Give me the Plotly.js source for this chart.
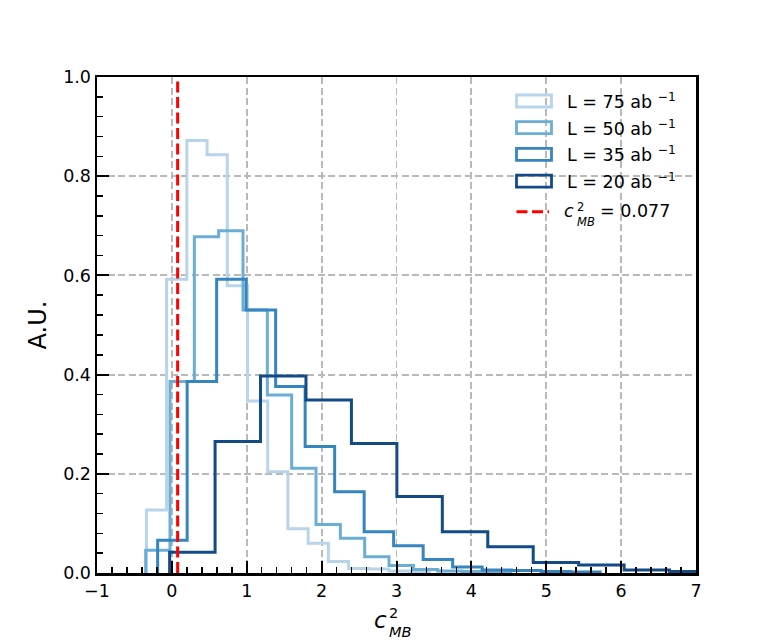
<!DOCTYPE html>
<html><head><meta charset="utf-8">
<script src="https://cdn.plot.ly/plotly-3.0.1.min.js"></script>
<style>html,body{margin:0;padding:0;background:#fff}#chart{width:773px;height:644px}</style>
</head><body><div id="chart"></div>
<script>
// ---- data ----
const seriesLabels = ['L = 75 ab <sup>−1</sup>', 'L = 50 ab <sup>−1</sup>', 'L = 35 ab <sup>−1</sup>', 'L = 20 ab <sup>−1</sup>'];
const seriesColors = ['#b7d4ea', '#6aaed6', '#3585c0', '#134b87'];

const binStart75 = -0.34, binWidth75 = 0.27;
const heights75 = [0.127, 0.592, 0.872, 0.843, 0.579, 0.347, 0.204, 0.089, 0.060, 0.023, 0.009, 0.008, 0.004, 0.002];

const binStart50 = -0.35, binWidth50 = 0.325;
const heights50 = [0.046, 0.386, 0.678, 0.690, 0.530, 0.359, 0.211, 0.098, 0.070, 0.033, 0.015, 0.007, 0.004, 0.003, 0.002];

const binStart35 = -0.19, binWidth35 = 0.394;
const heights35 = [0.066, 0.386, 0.592, 0.530, 0.376, 0.255, 0.164, 0.083, 0.055, 0.027, 0.012, 0.006, 0.005, 0.003, 0.002];

const binStart20 = -0.03, binWidth20 = 0.607;
const heights20 = [0.042, 0.265, 0.397, 0.349, 0.261, 0.154, 0.083, 0.053, 0.021, 0.016, 0.006, 0.003];

const cMB = 0.077;
const cMBLabel = '= 0.077';

const xTicks = [-1, 0, 1, 2, 3, 4, 5, 6, 7];
const yTicks = [0, 0.2, 0.4, 0.6, 0.8, 1.0];

// ---- build step outlines (matplotlib histtype="step") ----
function stepOutline(start, width, h) {
  const xs = [start], ys = [0];
  for (let i = 0; i < h.length; i++) { xs.push(start + i * width); ys.push(h[i]); }
  xs.push(start + h.length * width); ys.push(0);
  return {xs, ys};
}
const series = [
  [binStart75, binWidth75, heights75],
  [binStart50, binWidth50, heights50],
  [binStart35, binWidth35, heights35],
  [binStart20, binWidth20, heights20]
];
const traces = series.map((s, i) => {
  const o = stepOutline(s[0], s[1], s[2]);
  return {type: 'scatter', mode: 'lines', x: o.xs, y: o.ys, name: seriesLabels[i],
          line: {color: seriesColors[i], width: 3, shape: 'hv'}, showlegend: false, hoverinfo: 'skip'};
});
traces.push({type: 'scatter', mode: 'lines', x: [cMB, cMB], y: [yTicks[0], yTicks[yTicks.length - 1]],
  line: {color: '#ff0000', width: 3, dash: '11px,4.5px'}, showlegend: false, hoverinfo: 'skip'});

// ---- layout helpers (pixel -> paper) ----
const L = 97, T = 77, W = 599, H = 496;
const px = v => (v - L) / W;
const py = v => (T + H - v) / H;
const FONT = 'DejaVu Sans';

const shapes = [], annotations = [];
const rowY = [101, 127.7, 154.4, 181.1];
rowY.forEach((c, i) => {
  shapes.push({type: 'rect', xref: 'paper', yref: 'paper', x0: px(516.5), x1: px(551.5), y0: py(c - 6), y1: py(c + 6),
    line: {color: seriesColors[i], width: 2.8}, fillcolor: 'rgba(0,0,0,0)'});
  annotations.push({xref: 'paper', yref: 'paper', x: px(565), y: py(c), xanchor: 'left', yanchor: 'middle',
    text: seriesLabels[i], showarrow: false, font: {family: FONT, size: 17.5, color: '#000'}});
});
// red dashed legend entry
shapes.push({type: 'line', xref: 'paper', yref: 'paper', x0: px(516.5), x1: px(549), y0: py(211.7), y1: py(211.7),
  line: {color: '#ff0000', width: 3, dash: '11px,4.5px'}});
annotations.push({xref: 'paper', yref: 'paper', x: px(575.5), y: py(211), xanchor: 'right', yanchor: 'middle',
  text: '<i>c</i>', showarrow: false, font: {family: FONT, size: 17.5, color: '#000'}});
annotations.push({xref: 'paper', yref: 'paper', x: px(575), y: py(214), xanchor: 'left', yanchor: 'middle', align: 'left',
  text: '2<br><i>MB</i>', showarrow: false, font: {family: FONT, size: 11.5, color: '#000'}});
annotations.push({xref: 'paper', yref: 'paper', x: px(598), y: py(210.5), xanchor: 'left', yanchor: 'middle',
  text: cMBLabel, showarrow: false, font: {family: FONT, size: 17.5, color: '#000'}});

// x axis title  c^2_MB  (stacked super/subscript)
annotations.push({xref: 'paper', yref: 'paper', x: px(389), y: py(619.5), xanchor: 'right', yanchor: 'middle',
  text: '<i>c</i>', showarrow: false, font: {family: FONT, size: 23, color: '#000'}});
annotations.push({xref: 'paper', yref: 'paper', x: px(387), y: py(622), xanchor: 'left', yanchor: 'middle', align: 'left',
  text: '2<br><i>MB</i>', showarrow: false, font: {family: FONT, size: 14.5, color: '#000'}});

const axisCommon = {
  showline: true, linecolor: '#000', linewidth: 2.5, mirror: true,
  ticks: 'inside', ticklen: 12, tickwidth: 2, tickcolor: '#000',
  showgrid: true, gridcolor: '#b9b9b9', gridwidth: 1.8, griddash: '7px,3.5px',
  zeroline: false, tickfont: {family: FONT, size: 17.5, color: '#000'},
  fixedrange: true
};

const layout = {
  width: 773, height: 644,
  margin: {l: L, r: 773 - L - W, t: T, b: 644 - T - H, pad: 0},
  paper_bgcolor: '#fff', plot_bgcolor: '#fff',
  font: {family: FONT, color: '#000'},
  showlegend: false,
  xaxis: Object.assign({}, axisCommon, {
    range: [xTicks[0], xTicks[xTicks.length - 1]], tickmode: 'array', tickvals: xTicks,
    ticktext: xTicks.map(v => v < 0 ? '−' + Math.abs(v) : String(v)),
    minor: {dtick: 0.2, tick0: -1, ticks: 'inside', ticklen: 6, tickwidth: 1.5, tickcolor: '#000', showgrid: false},
    automargin: false
  }),
  yaxis: Object.assign({}, axisCommon, {
    range: [yTicks[0], yTicks[yTicks.length - 1]], tickmode: 'array', tickvals: yTicks,
    ticktext: yTicks.map(v => v.toFixed(1)),
    minor: {dtick: 0.04, tick0: 0, ticks: 'inside', ticklen: 6, tickwidth: 1.5, tickcolor: '#000', showgrid: false},
    title: {text: 'A.U.', font: {family: FONT, size: 24, color: '#000'}, standoff: 10},
    automargin: false
  }),
  shapes: shapes,
  annotations: annotations
};

Plotly.newPlot('chart', traces, layout, {displayModeBar: false, staticPlot: true});
</script>
</body></html>
